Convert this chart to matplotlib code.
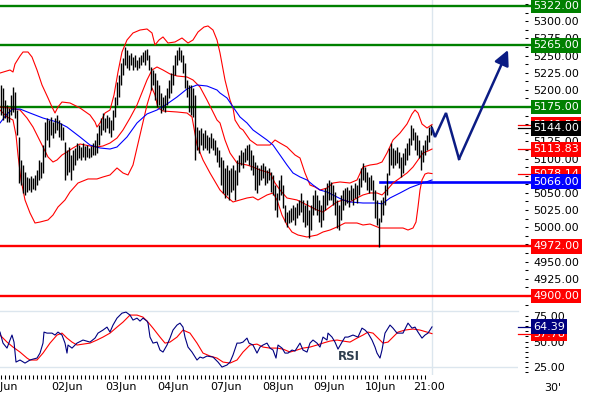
import matplotlib
matplotlib.use("Agg")
import matplotlib.pyplot as plt
from matplotlib.ticker import MultipleLocator, FixedLocator, FormatStrFormatter

# 30' price bars (bar index = position on the time axis)
highs = [
    5207, 5203, 5185, 5178, 5174, 5193, 5204, 5197, 5171, 5131,
    5098, 5091, 5080, 5073, 5072, 5075, 5072, 5076, 5083, 5098,
    5095, 5120, 5153, 5159, 5156, 5161, 5153, 5159, 5163, 5156,
    5152, 5146, 5124, 5112, 5117, 5105, 5112, 5115, 5123, 5120,
    5117, 5123, 5118, 5120, 5115, 5118, 5123, 5127, 5137, 5149,
    5159, 5166, 5159, 5163, 5161, 5156, 5171, 5190, 5211, 5222,
    5239, 5246, 5262, 5258, 5251, 5254, 5248, 5251, 5244, 5248,
    5251, 5255, 5258, 5260, 5251, 5233, 5229, 5225, 5214, 5207,
    5195, 5190, 5193, 5203, 5214, 5225, 5236, 5251, 5258, 5262,
    5258, 5251, 5239, 5214, 5207, 5207, 5203, 5193, 5146, 5142,
    5145, 5137, 5142, 5134, 5131, 5137, 5130, 5127, 5117, 5112,
    5102, 5098, 5086, 5091, 5083, 5086, 5091, 5083, 5098, 5105,
    5112, 5110, 5115, 5120, 5121, 5112, 5105, 5095, 5091, 5086,
    5091, 5094, 5089, 5083, 5086, 5080, 5076, 5062, 5050, 5069,
    5076, 5062, 5032, 5022, 5025, 5028, 5032, 5029, 5035, 5040,
    5050, 5040, 5032, 5040, 5025, 5032, 5047, 5054, 5047, 5040,
    5032, 5047, 5057, 5064, 5069, 5066, 5062, 5051, 5040, 5032,
    5047, 5054, 5057, 5059, 5054, 5062, 5057, 5064, 5062, 5072,
    5086, 5094, 5088, 5080, 5073, 5076, 5069, 5054, 5040, 5014,
    5040, 5044, 5062, 5079, 5115, 5123, 5115, 5112, 5117, 5110,
    5102, 5108, 5115, 5123, 5130, 5149, 5145, 5139, 5134, 5127,
    5112, 5120, 5127, 5134, 5146, 5149]
lows = [
    5163, 5156, 5159, 5153, 5153, 5163, 5168, 5159, 5134, 5064,
    5062, 5050, 5047, 5051, 5054, 5051, 5056, 5054, 5062, 5069,
    5072, 5079, 5102, 5127, 5117, 5134, 5130, 5137, 5142, 5131,
    5127, 5127, 5069, 5076, 5080, 5069, 5083, 5091, 5098, 5101,
    5098, 5102, 5098, 5102, 5101, 5102, 5105, 5105, 5108, 5120,
    5134, 5142, 5139, 5145, 5137, 5131, 5142, 5161, 5178, 5190,
    5207, 5222, 5236, 5232, 5229, 5236, 5229, 5233, 5229, 5232,
    5236, 5241, 5236, 5244, 5229, 5200, 5207, 5185, 5175, 5178,
    5166, 5171, 5168, 5178, 5188, 5195, 5207, 5222, 5236, 5244,
    5241, 5225, 5203, 5190, 5168, 5163, 5161, 5098, 5112, 5108,
    5120, 5112, 5115, 5112, 5108, 5115, 5112, 5105, 5095, 5088,
    5062, 5050, 5043, 5047, 5040, 5051, 5054, 5040, 5062, 5080,
    5091, 5086, 5095, 5098, 5091, 5083, 5076, 5054, 5050, 5062,
    5069, 5072, 5062, 5064, 5069, 5051, 5047, 5025, 5015, 5040,
    5047, 5028, 5008, 5000, 5006, 5008, 5011, 5003, 5014, 5018,
    5022, 5008, 5000, 5003, 4984, 4996, 5018, 5025, 5018, 5008,
    5000, 5011, 5025, 5032, 5040, 5040, 5032, 5018, 4999, 4996,
    5011, 5025, 5032, 5035, 5029, 5040, 5032, 5043, 5035, 5047,
    5059, 5069, 5066, 5054, 5050, 5054, 5040, 5014, 5003, 4971,
    5008, 5018, 5032, 5047, 5076, 5091, 5086, 5091, 5094, 5086,
    5073, 5079, 5091, 5098, 5105, 5120, 5127, 5112, 5105, 5101,
    5083, 5095, 5105, 5112, 5124, 5134]
last_close = 5144.00

# Bollinger bands (upper / middle / lower) and long moving average
bb_up_bar = [-0.5, 4.5, 6, 7, 9.5, 11, 13.5, 15.5, 18, 20.5, 23.5, 25.5, 27, 28.5, 30.5, 34.5,
             39.5, 44.5, 47, 48, 49.5, 52, 54.5, 56.5, 58.5, 60.5, 63, 66, 69.5, 73, 75.5, 77,
             79, 81, 83.5, 87, 90.5, 93.5, 96, 98.5, 101.5, 103.5, 106, 108, 109.5, 112, 114.5,
             116, 117, 119.5, 121, 124.5, 128, 132, 134.5, 137, 139.5, 143, 147, 149.5, 152,
             154.5, 157, 159.5, 163, 166, 169.5, 174.5, 178, 181, 184.5, 188, 190.5, 193, 196,
             199.5, 203, 205.5, 207, 208.5, 210.5, 213, 215.5]
bb_up = [5224.5, 5228.9, 5226.0, 5237.6, 5249.3, 5255.1, 5255.1, 5247.8, 5228.9, 5207.1, 5188.2,
         5175.1, 5166.3, 5175.1, 5182.3, 5180.9, 5173.6, 5163.4, 5153.2, 5145.9, 5151.8, 5166.3,
         5170.7, 5192.5, 5226.0, 5255.1, 5272.6, 5282.8, 5287.1, 5288.6, 5282.8, 5265.3, 5272.6,
         5277.0, 5268.2, 5269.7, 5275.5, 5268.2, 5272.6, 5284.2, 5291.5, 5293.0, 5287.1, 5272.6,
         5253.7, 5214.4, 5185.2, 5173.6, 5156.1, 5144.5, 5141.6, 5127.0, 5119.7, 5119.7, 5119.7,
         5127.0, 5122.6, 5116.8, 5105.2, 5100.8, 5079.0, 5061.5, 5058.6, 5054.2, 5057.1, 5064.4,
         5065.9, 5064.4, 5068.8, 5087.7, 5090.6, 5092.1, 5095.0, 5108.1, 5127.0, 5137.2, 5150.3,
         5164.9, 5170.7, 5166.3, 5150.3, 5144.5, 5149.5]
bb_mid_bar = [-0.5, 4.5, 9.5, 13, 16, 18.5, 21, 23.5, 26, 28, 30.5, 33, 36, 39.5, 44.5, 48, 51,
              54.5, 58, 61, 64.5, 68, 71, 73, 75.5, 78, 81, 84.5, 88, 93, 96, 99.5, 103, 106,
              108, 109.5, 112, 114.5, 118, 123, 126, 129.5, 134.5, 137, 139.5, 143, 148, 153,
              158, 161, 164.5, 168, 171, 174.5, 178, 181, 184.5, 188, 190.5, 193, 196, 199.5,
              203, 206, 208.5, 211, 213.5, 215.5]
bb_mid = [5175.1, 5173.6, 5170.7, 5159.0, 5145.9, 5131.4, 5116.8, 5102.3, 5095.0, 5097.9, 5105.2,
          5109.6, 5115.4, 5121.2, 5118.3, 5116.8, 5118.3, 5122.6, 5129.9, 5141.6, 5159.0, 5178.0,
          5199.8, 5214.4, 5228.9, 5233.3, 5228.9, 5223.1, 5220.2, 5218.7, 5214.4, 5204.2, 5185.2,
          5167.8, 5156.1, 5151.8, 5127.0, 5108.1, 5093.5, 5090.6, 5087.7, 5083.3, 5079.0, 5064.4,
          5054.2, 5042.6, 5039.7, 5032.4, 5025.1, 5022.2, 5029.5, 5036.8, 5039.7, 5036.8, 5042.6,
          5047.0, 5049.9, 5049.9, 5047.0, 5054.2, 5064.4, 5071.7, 5079.0, 5087.7, 5097.9, 5108.1,
          5111.0, 5113.83]
bb_low_bar = [-0.5, 3, 6, 7.5, 8.5, 10, 12, 14.5, 17, 19.5, 23.5, 26, 28.5, 32, 34.5, 38.5, 43.5,
              48, 51, 54.5, 58, 61, 63.5, 66, 69.5, 73, 75.5, 77, 78.5, 81, 88, 93, 95.5, 98, 101,
              104.5, 109.5, 113, 116, 119.5, 123, 126, 128.5, 133, 136, 138, 140.5, 143, 145.5,
              148.5, 153, 158, 161, 164.5, 168, 172, 178, 181, 184.5, 189.5, 194.5, 201, 203.5,
              206, 207.5, 208.5, 209.5, 210.5, 212, 213.5, 215.5]
bb_low = [5170.7, 5160.5, 5156.1, 5134.3, 5105.2, 5068.8, 5039.7, 5020.8, 5006.2, 5007.6, 5010.6,
          5017.8, 5029.5, 5039.7, 5051.3, 5064.4, 5070.3, 5070.3, 5073.2, 5076.1, 5086.3, 5079.0,
          5076.1, 5090.6, 5134.3, 5178.0, 5202.7, 5192.5, 5173.6, 5169.2, 5167.8, 5166.3, 5160.5,
          5119.7, 5097.9, 5079.0, 5054.2, 5044.0, 5036.8, 5039.7, 5042.6, 5044.0, 5039.7, 5047.0,
          5049.9, 5039.7, 5017.8, 5003.3, 4993.1, 4988.7, 4985.8, 4988.7, 4993.1, 4996.0, 5000.4,
          5006.2, 5006.2, 5003.3, 5004.7, 4998.9, 4998.9, 4998.9, 4996.0, 4998.9, 5007.6, 5029.5,
          5054.2, 5068.8, 5077.5, 5079.0, 5078.14]
ma_bar = [-0.5, 3, 6, 9.5, 14.5, 21, 28, 33, 39.5, 44.5, 49.5, 54.5, 58, 63, 68, 73, 78, 83, 88,
          93, 98, 103, 108, 109.5, 113, 116, 119.5, 123, 126, 129.5, 133, 136, 139.5, 143, 146,
          149.5, 153, 156, 159.5, 163, 166, 171, 174.5, 181, 188, 190.5, 194.5, 199.5, 204.5,
          209.5, 215.5]
ma = [5151.8, 5164.9, 5172.1, 5172.1, 5166.3, 5159.0, 5153.2, 5145.9, 5131.4, 5119.7, 5115.4,
      5113.9, 5116.8, 5131.4, 5151.8, 5164.9, 5170.7, 5179.4, 5189.6, 5201.3, 5207.1, 5205.6,
      5199.8, 5195.4, 5188.2, 5175.1, 5160.5, 5151.8, 5141.6, 5134.3, 5127.0, 5119.7, 5105.2,
      5090.6, 5079.0, 5073.2, 5068.8, 5061.5, 5054.2, 5051.3, 5046.9, 5039.7, 5036.8, 5035.3,
      5035.3, 5033.9, 5042.6, 5049.9, 5057.6, 5063.0, 5068.8]

# RSI and its signal line
rsi_bar = [-0.5, 1, 3, 4.5, 5.5, 6.5, 7.5, 9.5, 12, 14.5, 16, 18, 19.5, 21, 21.5, 23, 25.5, 27,
           28.5, 30.5, 32, 33, 33.5, 35.5, 38, 41, 44.5, 47, 48.5, 51, 53, 54.5, 56, 58, 60.5,
           62.5, 64.5, 66, 68, 69.5, 71, 73, 73.5, 74.5, 76, 78, 79.5, 81, 83, 84.5, 86, 88,
           89.5, 91, 92, 93.5, 95.5, 98, 99.5, 101, 103, 106, 108.5, 110.5, 113, 114.5, 116,
           118, 119.5, 121, 123, 124, 126, 128, 129.5, 131, 133, 134.5, 136, 137.5, 138.5,
           140.5, 142, 143.5, 145.5, 147, 149.5, 151, 153, 154.5, 156, 158, 159.5, 161, 163,
           163.5, 165.5, 167, 168.5, 170.5, 172, 173.5, 176, 178.5, 180.5, 182, 183.5, 185.5,
           187, 188, 189.5, 190.5, 192, 194.5, 196, 198, 201, 203, 203.5, 205.5, 207, 208.5,
           210.5, 212, 213.5, 215.5]
rsi = [59.3, 48.5, 43.6, 51.5, 56.4, 49.5, 29.9, 31.9, 28.9, 31.9, 32.8, 33.8, 38.7, 48.5, 59.3,
       58.3, 58.3, 56.4, 59.3, 56.4, 48.5, 38.7, 46.6, 43.6, 48.5, 51.5, 49.5, 53.4, 58.3, 61.3,
       64.2, 59.3, 66.2, 73.0, 77.9, 78.9, 76.0, 71.1, 73.0, 70.1, 73.0, 70.1, 68.1, 54.4, 48.5,
       49.5, 41.7, 39.7, 46.6, 53.4, 61.3, 66.2, 68.1, 64.2, 54.4, 44.6, 39.7, 31.9, 34.8, 33.8,
       35.8, 34.8, 29.9, 25.0, 27.0, 29.9, 36.8, 48.5, 48.5, 49.5, 53.4, 48.5, 46.6, 38.7, 44.6,
       46.6, 48.5, 43.6, 41.7, 33.8, 46.6, 43.6, 38.7, 38.7, 41.7, 40.7, 48.5, 41.7, 39.7, 48.5,
       51.5, 48.5, 44.6, 54.4, 51.5, 58.3, 54.4, 49.5, 42.6, 49.5, 54.4, 54.4, 56.4, 54.4, 63.2,
       61.3, 58.3, 51.5, 44.6, 38.7, 33.8, 41.7, 58.3, 66.2, 63.2, 58.3, 58.3, 66.2, 68.1, 63.2,
       64.2, 59.3, 53.4, 56.4, 58.3, 64.39]
sig_bar = [-0.5, 3, 6, 9.5, 13, 14.5, 18, 21, 24.5, 28, 30.5, 33, 35.5, 38, 41, 44.5, 48, 51,
           54.5, 58, 61, 64.5, 68, 71, 73.5, 76, 79.5, 82, 84.5, 88, 91, 94.5, 98, 101, 104.5,
           108, 111, 114.5, 118, 121, 124.5, 128, 131, 134.5, 138, 141, 144.5, 148, 151, 154.5,
           158, 161, 164.5, 168, 171, 174.5, 178, 181, 183.5, 186, 188.5, 191, 193.5, 196, 198.5,
           202, 206, 209.5, 213, 215.5]
sig = [56.4, 49.5, 44.6, 39.7, 33.8, 31.9, 31.9, 38.7, 48.5, 56.4, 58.3, 53.4, 49.5, 46.6, 47.5,
       48.5, 51.5, 54.4, 58.3, 64.2, 69.1, 76.0, 76.0, 74.0, 69.1, 63.2, 54.4, 48.5, 49.5, 54.4,
       61.3, 58.3, 48.5, 38.7, 35.8, 33.8, 29.9, 28.9, 31.9, 39.7, 46.6, 47.5, 44.6, 43.6, 43.6,
       42.6, 39.7, 41.7, 43.6, 44.6, 46.6, 48.5, 50.5, 51.5, 50.5, 49.5, 53.4, 56.4, 59.3, 58.3,
       53.4, 48.5, 49.5, 54.4, 59.3, 61.3, 62.3, 61.3, 59.3, 57.78]

# key levels
resistances = [5322.00, 5265.00, 5175.00]
supports = [4972.00, 4900.00]
pivot = 5066.00

# expected scenario path
scen_bar = [217, 222.5, 229]
scen_px = [5131.4, 5166.3, 5099.4]
scen_tip = (253.5, 5258.0)

day_pos = [0.5, 33, 60, 86, 112.5, 138.5, 164, 190, 214]
day_labels = ["01Jun", "02Jun", "03Jun", "04Jun", "07Jun", "08Jun", "09Jun", "10Jun", "21:00"]

GREEN, RED, BLUE, NAVY = "#008000", "#FF0000", "#0000FF", "#000080"
GRID = "#DCE6EE"
plt.rcParams["font.family"] = "DejaVu Sans"

W, H = 590, 400
fig = plt.figure(figsize=(W / 100, H / 100), dpi=100)
ax = fig.add_axes([0, 1 - 311 / H, 518 / W, 311 / H])
ax2 = fig.add_axes([0, 1 - 375 / H, 518 / W, 64 / H])

xmin, xmax = -0.5, 258.5
label_x = 266      # where the right-hand value boxes start
line_end = 264.5

# ---- price panel ----
ax.set_xlim(xmin, xmax)
ax.set_ylim(4878.1, 5330.8)
for s in ax.spines.values():
    s.set_visible(False)
ax.spines["right"].set_position(("outward", 5))
ax.set_xticks([])
ax.yaxis.tick_right()
ax.yaxis.set_major_locator(MultipleLocator(25))
ax.yaxis.set_minor_locator(MultipleLocator(12.5))
ax.yaxis.set_major_formatter(FormatStrFormatter("%.2f"))
ax.tick_params(axis="y", which="both", direction="out", length=2.2, width=0.75,
               pad=3.6, labelsize=8, colors="black")

ax.axvline(215.5, color=GRID, lw=1, zorder=0)

for lvl in resistances:
    ax.plot([xmin, line_end], [lvl, lvl], color=GREEN, lw=1.7, clip_on=False, zorder=2)
for lvl in supports:
    ax.plot([xmin, line_end], [lvl, lvl], color=RED, lw=1.7, clip_on=False, zorder=2)
ax.plot([189.5, line_end], [pivot, pivot], color=BLUE, lw=1.9, clip_on=False, zorder=2)

ax.plot(bb_up_bar, bb_up, color=RED, lw=0.8, zorder=3)
ax.plot(bb_mid_bar, bb_mid, color=RED, lw=0.8, zorder=3)
ax.plot(bb_low_bar, bb_low, color=RED, lw=0.8, zorder=3)
ax.plot(ma_bar, ma, color=BLUE, lw=0.8, zorder=3)

idx = list(range(len(highs)))
ax.vlines(idx, lows, highs, color="black", lw=1.0, zorder=4)

ax.plot([len(highs) - 1 + 0.5] + scen_bar, [last_close] + scen_px, color="#0B1C84",
        lw=1.8, solid_joinstyle="miter", zorder=5)
ax.annotate("", xy=scen_tip, xytext=(scen_bar[-1], scen_px[-1]),
            arrowprops=dict(arrowstyle="-|>,head_length=0.9,head_width=0.45",
                            color="#0B1C84", lw=1.8, shrinkA=0, shrinkB=0), zorder=5)


def value_box(axis, y, text, color, z):
    axis.text(label_x, y, text, color="white", fontsize=8, ha="left", va="center",
              clip_on=False, zorder=z,
              bbox=dict(boxstyle="square,pad=0.22", fc=color, ec="none"))


def stub(axis, y, color):
    axis.plot([xmax, line_end], [y, y], color=color, lw=0.9, clip_on=False, zorder=6)


for lvl in resistances:
    value_box(ax, lvl, f"{lvl:.2f}", GREEN, 7)
for lvl in supports:
    value_box(ax, lvl, f"{lvl:.2f}", RED, 7)

stub(ax, bb_up[-1], RED)
value_box(ax, bb_up[-1], f"{bb_up[-1]:.2f}", RED, 7)
stub(ax, last_close, "black")
value_box(ax, last_close, f"{last_close:.2f}", "black", 8)
stub(ax, bb_mid[-1], RED)
value_box(ax, bb_mid[-1], f"{bb_mid[-1]:.2f}", RED, 8)
stub(ax, bb_low[-1], RED)
value_box(ax, bb_low[-1], f"{bb_low[-1]:.2f}", RED, 7)
value_box(ax, pivot, f"{pivot:.2f}", BLUE, 8)

# ---- RSI panel ----
ax2.set_xlim(xmin, xmax)
ax2.set_ylim(17.2, 80)
ax2.patch.set_alpha(0)
for s in ax2.spines.values():
    s.set_visible(False)
ax2.spines["right"].set_position(("outward", 5))
ax2.yaxis.tick_right()
ax2.yaxis.set_major_locator(FixedLocator([25, 50, 75]))
ax2.yaxis.set_minor_locator(FixedLocator(list(range(20, 80, 5))))
ax2.yaxis.set_major_formatter(FormatStrFormatter("%.2f"))
ax2.tick_params(axis="y", which="both", direction="out", length=2.2, width=0.75,
                pad=3.6, labelsize=8)

ax2.xaxis.set_major_locator(FixedLocator(day_pos))
ax2.set_xticklabels(day_labels)
ax2.xaxis.set_minor_locator(FixedLocator(list(range(0, 216, 2))))
ax2.tick_params(axis="x", which="major", length=0, pad=5.0, labelsize=8)
ax2.tick_params(axis="x", which="minor", direction="out", length=2.9, width=0.75)

ax2.plot([xmin, xmax], [25, 25], color=GRID, lw=1, zorder=0)
ax2.plot([xmin, xmax], [80, 80], color=GRID, lw=1, zorder=0, clip_on=False)
ax2.axvline(215.5, color=GRID, lw=1, zorder=0)

ax2.plot(sig_bar, sig, color=RED, lw=0.8, zorder=3)
ax2.plot(rsi_bar, rsi, color=NAVY, lw=0.8, zorder=4)
ax2.text(174, 35.8, "RSI", fontsize=8.5, fontweight="bold", color="#2E3D4E",
         ha="center", va="center")

stub(ax2, rsi[-1], NAVY)
stub(ax2, sig[-1], RED)
value_box(ax2, sig[-1], f"{sig[-1]:.2f}", RED, 7)
value_box(ax2, rsi[-1], f"{rsi[-1]:.2f}", NAVY, 8)

fig.text(553 / W, 1 - 388 / H, "30'", fontsize=8, ha="center", va="center")

fig.savefig("out.png", dpi=100, facecolor="white")
